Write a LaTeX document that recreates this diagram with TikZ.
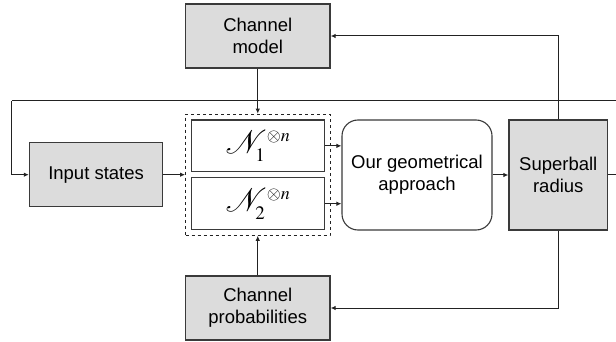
\documentclass[tikz,border=0pt]{standalone}
\usepackage{mathptmx}
\usepackage[no-math]{fontspec}
\setmainfont{Liberation Sans}
\usetikzlibrary{arrows.meta}
\definecolor{boxfill}{HTML}{DCDCDC}
\definecolor{boxline}{HTML}{3A3A3A}
\definecolor{wire}{HTML}{222222}
\newcommand{\chanlabel}[1]{\fontsize{33}{34}\selectfont$\mathcal{N}_{\mbox{\fontsize{19}{19}\selectfont$#1$}}^{\mbox{\fontsize{18}{18}\selectfont$\otimes n$}}$}
\tikzset{
  graybox/.style={draw=boxline, line width=1.3pt, fill=boxfill, align=center,
    font=\fontsize{18.5}{21.7}\selectfont, inner sep=0pt},
  chanbox/.style={draw=boxline, line width=1.1pt, fill=white, inner sep=0pt,
    minimum width=133.2pt, minimum height=51.7pt},
  procbox/.style={draw=boxline, line width=1.1pt, fill=white, rounded corners=16pt,
    align=center, font=\fontsize{18.5}{21.7}\selectfont, inner sep=0pt},
  wirearrow/.style={draw=wire, line width=1pt, -{Latex[length=5pt,width=4.5pt]}},
  wireline/.style={draw=wire, line width=1pt},
}
\begin{document}
\begin{tikzpicture}[x=1pt,y=-1pt]
\useasboundingbox (0,0) rectangle (616,342);
\node[graybox, minimum width=144.5pt, minimum height=64pt] (cm) at (257.75,36) {Channel\\model};
\node[graybox, minimum width=133.2pt, minimum height=64pt] (in) at (96.1,174.7) {Input states};
\node[draw=wire, dashed, line width=0.8pt, minimum width=144.5pt, minimum height=121.3pt, inner sep=0pt] (dash) at (257.75,174.7) {};
\node[chanbox] (n1) at (258,145.85) {\chanlabel{1}};
\node[chanbox] (n2) at (258,203.7) {\chanlabel{2}};
\node[procbox, minimum width=150pt, minimum height=110pt] (geo) at (417,175) {Our geometrical\\approach};
\node[graybox, minimum width=98.5pt, minimum height=110pt] (sb) at (558.25,175) {Superball\\radius};
\node[graybox, minimum width=144.5pt, minimum height=64pt] (cp) at (257.75,308) {Channel\\probabilities};
\coordinate (tl) at (11.8,101);
\coordinate (tr) at (622,101);
\coordinate (rr) at (622,175);
% arrows
\draw[wirearrow] (cm.south) -- (dash.north);
\draw[wirearrow] (cp.north) -- (dash.south);
\draw[wirearrow] (in.east) -- (dash.west);
\draw[wirearrow] (n1.east) -- (n1.east -| geo.west);
\draw[wirearrow] (n2.east) -- (n2.east -| geo.west);
\draw[wirearrow] (geo.east) -- (sb.west);
\draw[wirearrow] (sb.north) |- (cm.east);
\draw[wirearrow] (sb.south) |- (cp.east);
\draw[wireline] (sb.east) -- (rr) -- (tr) -- (tl);
\draw[wirearrow] (tl) |- (in.west);
\end{tikzpicture}
\end{document}
